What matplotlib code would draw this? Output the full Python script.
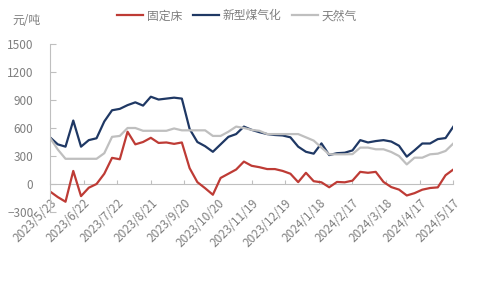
import numpy as np
import pandas as pd
import matplotlib
matplotlib.use("Agg")
import matplotlib.pyplot as plt

plt.rcParams['font.family'] = ['Noto Sans CJK SC', 'DejaVu Sans']

# ---- data ----
tick_labels = ["2023/5/23", "2023/6/22", "2023/7/22", "2023/8/21", "2023/9/20",
               "2023/10/20", "2023/11/19", "2023/12/19", "2024/1/18", "2024/2/17",
               "2024/3/18", "2024/4/17", "2024/5/17"]
series_names = ["固定床", "新型煤气化", "天然气"]

fixed_bed = [-80, -140, -190, 140, -130, -40, 0, 110, 280, 265, 560, 425, 450, 495,
             440, 445, 430, 445, 170, 20, -45, -115, 65, 110, 155, 240, 195, 180,
             160, 160, 140, 110, 20, 120, 30, 18, -35, 22, 18, 36, 130, 120, 130,
             22, -33, -60, -123, -98, -61, -43, -36, 94, 155]
coal_gas = [500, 425, 400, 680, 400, 470, 490, 670, 790, 805, 845, 875, 840, 935,
            905, 915, 925, 915, 590, 450, 405, 345, 425, 505, 535, 615, 580, 555,
            535, 525, 520, 500, 400, 345, 325, 435, 310, 330, 335, 360, 470, 445,
            460, 470, 455, 410, 293, 361, 434, 434, 481, 492, 614]
natural_gas = [495, 370, 270, 270, 270, 270, 270, 330, 505, 515, 600, 600, 570, 570,
               570, 570, 595, 575, 575, 575, 575, 515, 515, 560, 615, 600, 580, 570,
               535, 535, 535, 535, 535, 500, 465, 390, 318, 318, 318, 320, 390, 390,
               372, 372, 343, 300, 210, 282, 282, 318, 325, 354, 434]

start = pd.Timestamp("2023-05-23")
tick_dates = pd.to_datetime(tick_labels, format="%Y/%m/%d")
tick_days = np.array([(d - start).days for d in tick_dates])
x = np.linspace(tick_days[0], tick_days[-1], len(fixed_bed))

colors = ["#BE3B35", "#1F3864", "#BFBFBF"]
axis_gray = "#BFBFBF"
text_gray = "#7F7F7F"

fig = plt.figure(figsize=(4.8, 2.88), dpi=100)
ax = fig.add_axes([50/480, 1-212/288, (453.3-50)/480, (212-44)/288])

for vals, name, c in zip([fixed_bed, coal_gas, natural_gas], series_names, colors):
    ax.plot(x, vals, color=c, lw=1.6, label=name, solid_joinstyle='round')

ymin, ymax = -300, 1500
ax.set_ylim(ymin, ymax)
ax.set_xlim(tick_days[0], tick_days[-1])
ax.set_yticks(np.arange(-300, 1501, 300))

for s in ["top", "right", "bottom"]:
    ax.spines[s].set_visible(False)
ax.spines["left"].set_color(axis_gray)
ax.spines["left"].set_linewidth(0.8)
ax.tick_params(axis='y', direction='in', length=4, color=axis_gray, width=0.8,
               labelsize=8.5, labelcolor=text_gray, pad=12)

ax.set_xticks(tick_days)
ax.set_xticklabels(tick_labels)
ax.tick_params(axis='x', length=0, labelsize=8.5, labelcolor=text_gray, pad=-11)
for lbl in ax.get_xticklabels():
    lbl.set_rotation(45)
    lbl.set_ha('right')
    lbl.set_rotation_mode('anchor')

# zero line axis with inward ticks
zero_pos = (0 - ymin) / (ymax - ymin)
sec = ax.secondary_xaxis(zero_pos)
sec.set_xticks(tick_days)
sec.tick_params(direction='in', length=3, color=axis_gray, width=0.8, labelbottom=False)
sec.spines['bottom'].set_color(axis_gray)
sec.spines['bottom'].set_linewidth(0.8)

fig.text(12/480, 1-21/288, "元/吨", fontsize=8.5, color=text_gray, va='center', ha='left')

leg = fig.legend(loc='center', bbox_to_anchor=(237/480, 1-16/288), ncol=3, frameon=False,
                 fontsize=8.5, handlelength=2.2, handletextpad=0.3, columnspacing=0.9,
                 borderaxespad=0)
for t in leg.get_texts():
    t.set_color(text_gray)

fig.savefig("out.png", dpi=100)
